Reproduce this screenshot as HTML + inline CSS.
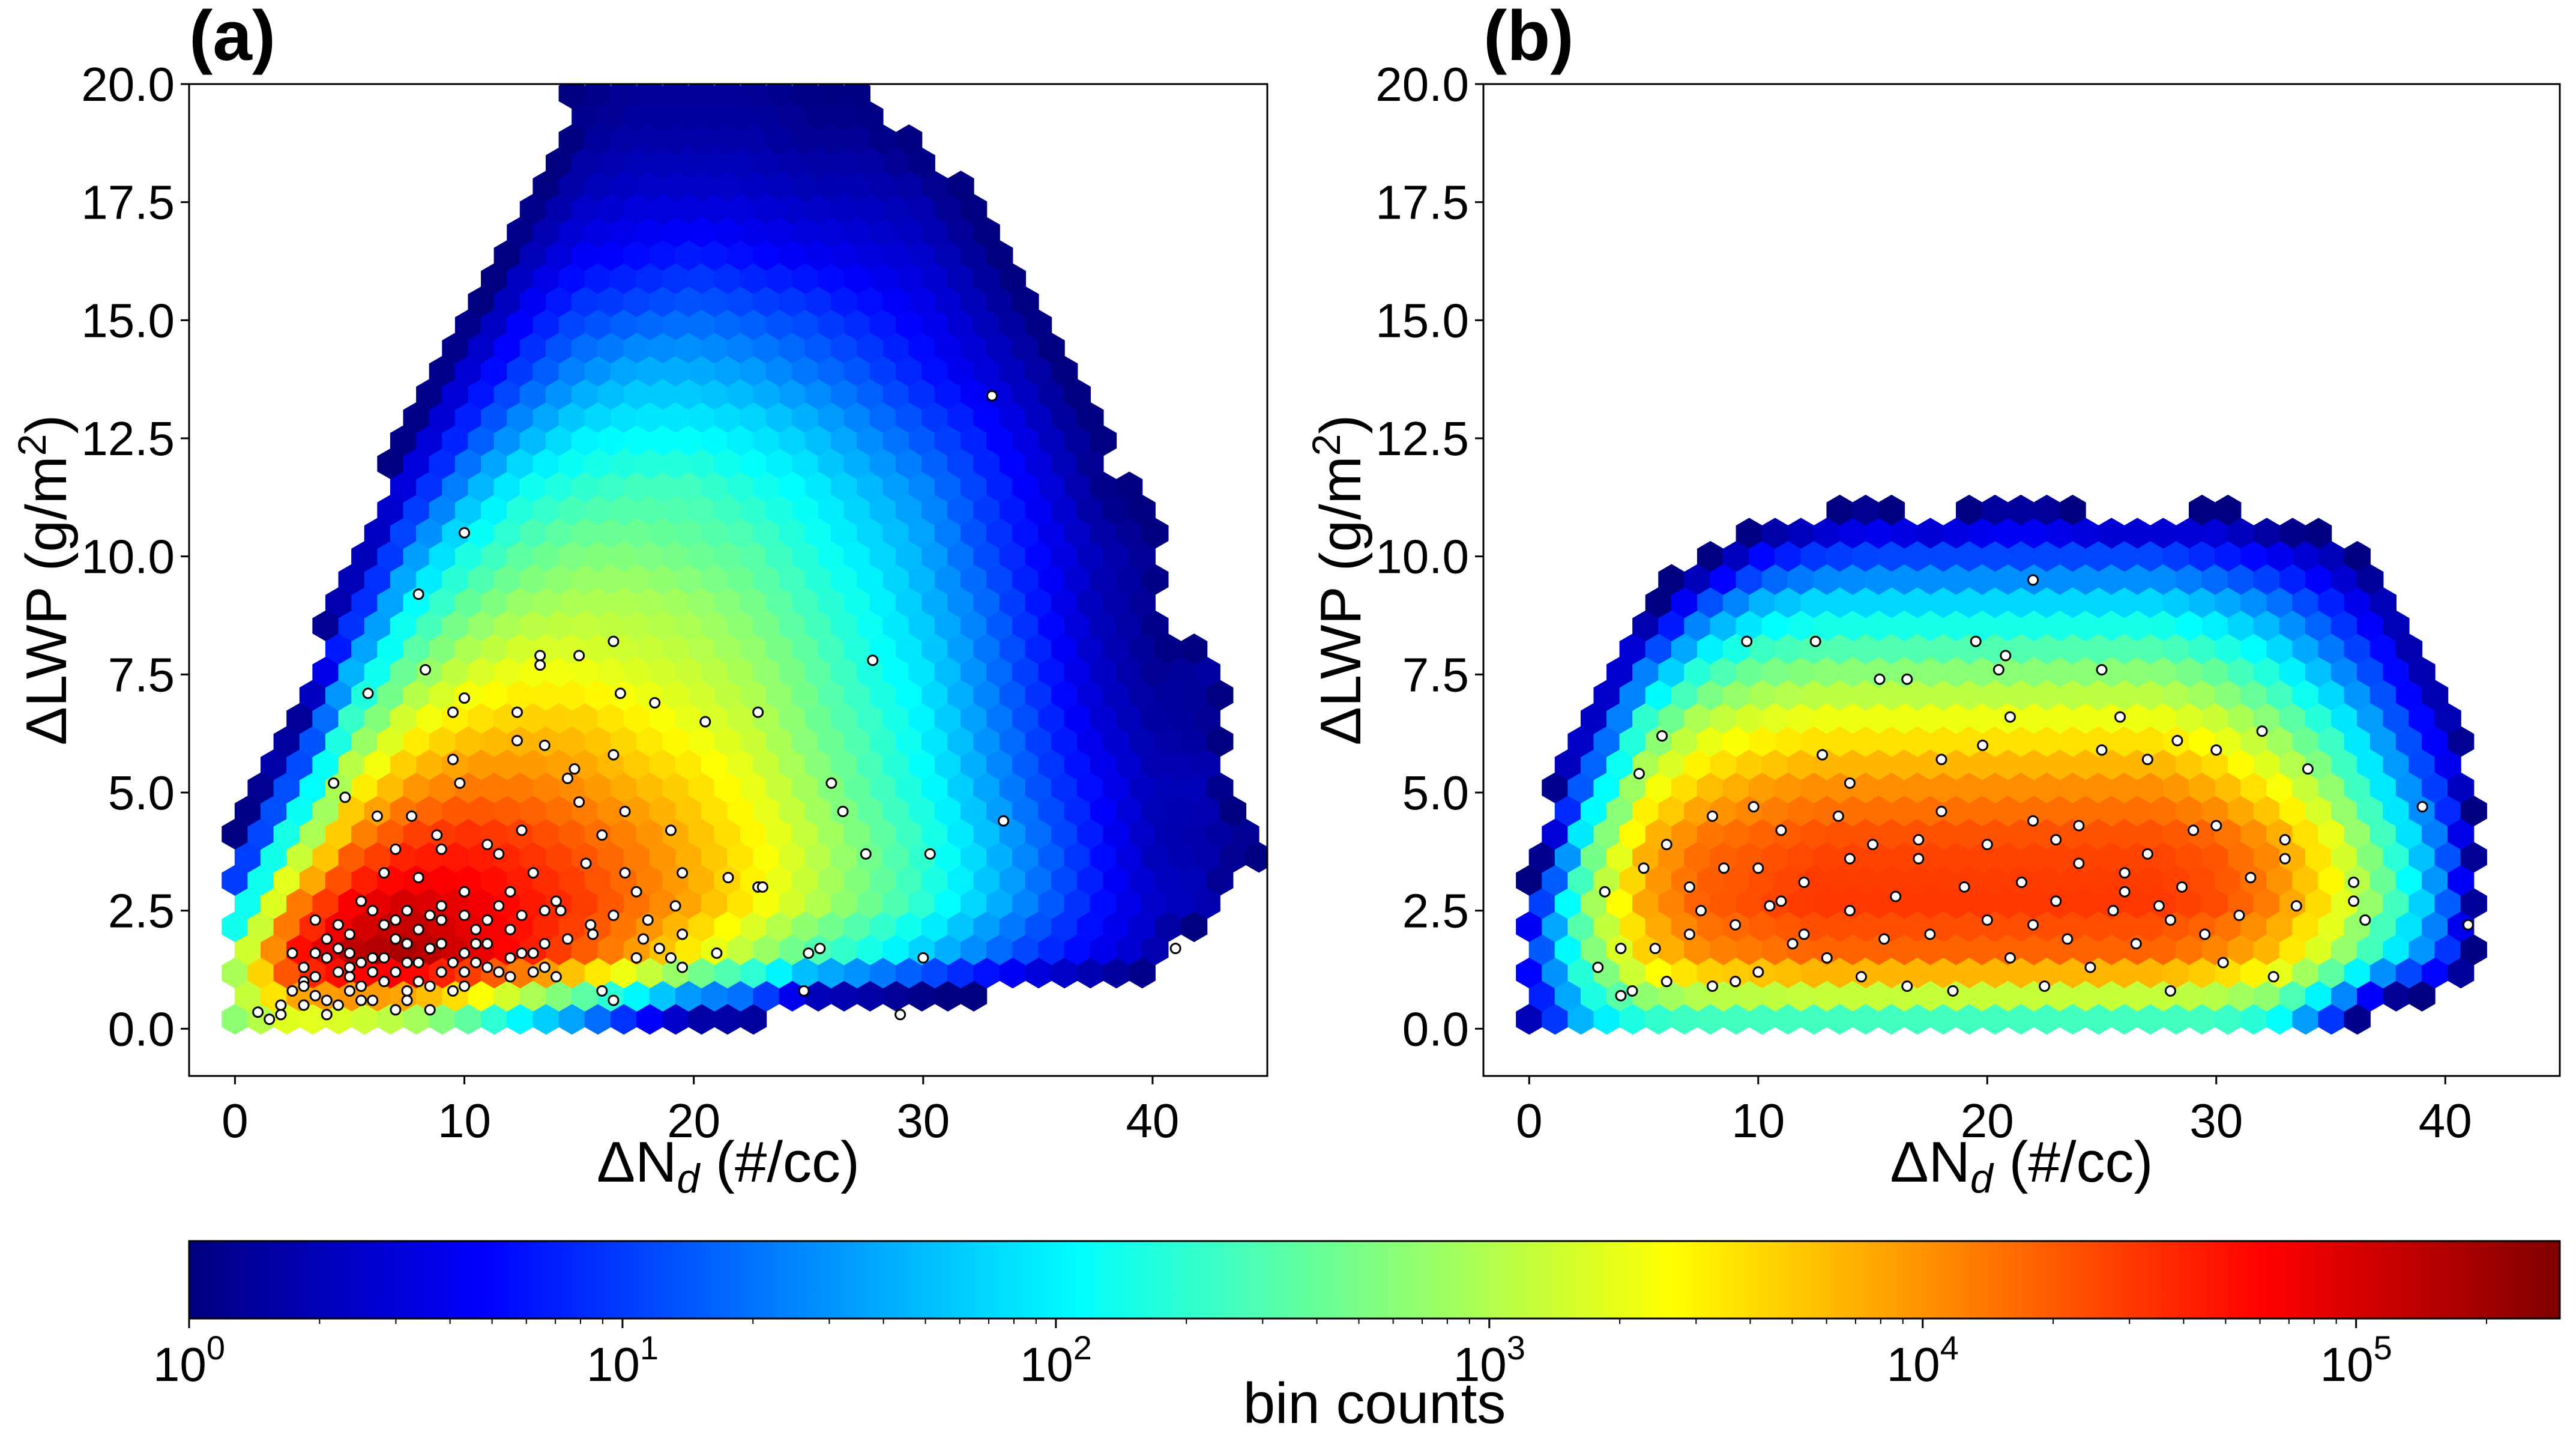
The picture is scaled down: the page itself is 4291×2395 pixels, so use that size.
<!DOCTYPE html>
<html><head><meta charset="utf-8"><style>
html,body{margin:0;padding:0;background:#fff;}
svg{display:block;font-family:"Liberation Sans","DejaVu Sans",sans-serif;}
</style></head><body>
<svg id="fig" width="4291" height="2395" viewBox="0 0 4291 2395" xmlns="http://www.w3.org/2000/svg">
<defs>
<clipPath id="clipA"><rect x="315" y="140" width="1796" height="1652"/></clipPath>
<clipPath id="clipB"><rect x="2471" y="140" width="1793" height="1652"/></clipPath>
<linearGradient id="jetGrad" x1="0" x2="1" y1="0" y2="0"></linearGradient>
</defs>
<g id="root"></g>
</svg>
<script>
// ---- data: log10(bin counts), grid columns at x = 0,2.5,...,45 ; rows at y = 0.2 + j*1.25 ; -1 = empty
const gridX = [0,2.5,5,7.5,10,12.5,15,17.5,20,22.5,25,27.5,30,32.5,35,37.5,40,42.5,45];
const gridY = [0.2,1.45,2.7,3.95,5.2,6.45,7.7,8.95,10.2,11.45,12.7,13.95,15.2,16.45,17.7,18.95,20.2];
const gridA = [
[2.8,3.3,3.2,3.0,2.6,2.0,1.5,0.8,0.2,0.2,-1,-1,-1,-1,-1,-1,-1,-1,-1],
[3.0,4.8,5.2,5.3,5.0,4.7,4.3,3.9,3.4,2.9,2.4,2.1,1.7,1.3,0.9,0.6,0.3,-1,-1],
[1.5,4.0,4.8,5.0,4.9,4.7,4.5,4.2,3.9,3.5,3.1,2.7,2.3,1.8,1.3,0.8,0.4,0.3,-1],
[0.1,2.6,4.1,4.5,4.6,4.5,4.3,4.1,3.8,3.5,3.1,2.7,2.3,1.8,1.3,0.8,0.3,0.2,0.2],
[-1,1.2,3.3,3.9,4.1,4.1,4.0,3.8,3.6,3.3,2.9,2.5,2.1,1.6,1.1,0.7,0.3,0.3,-1],
[-1,-0.1,2.4,3.3,3.6,3.7,3.7,3.5,3.3,3.1,2.7,2.4,2.0,1.5,1.0,0.5,0.2,0.1,-1],
[-1,-1,1.5,2.6,3.1,3.3,3.3,3.2,3.1,2.9,2.6,2.2,1.9,1.4,0.9,0.4,0.1,0.2,-1],
[-1,-1,0.6,2.0,2.6,2.9,3.0,3.0,2.9,2.7,2.4,2.1,1.7,1.3,0.8,0.3,0.1,-1,-1],
[-1,-1,-0.2,1.3,2.1,2.5,2.7,2.7,2.6,2.5,2.2,1.9,1.6,1.1,0.7,0.3,0.1,-1,-1],
[-1,-1,-1,0.6,1.5,2.1,2.3,2.4,2.4,2.2,2.0,1.7,1.4,1.0,0.6,0.1,-0.2,-1,-1],
[-1,-1,-1,0.0,0.9,1.5,1.9,2.0,2.0,1.9,1.7,1.4,1.1,0.8,0.4,0.0,-1,-1,-1],
[-1,-1,-1,-0.5,0.4,1.0,1.4,1.6,1.6,1.5,1.3,1.1,0.8,0.5,0.2,-0.3,-1,-1,-1],
[-1,-1,-1,-1,-0.1,0.6,1.0,1.1,1.2,1.1,1.0,0.8,0.6,0.3,0.0,-1,-1,-1,-1],
[-1,-1,-1,-1,-1,0.2,0.6,0.7,0.8,0.7,0.6,0.5,0.4,0.1,-0.3,-1,-1,-1,-1],
[-1,-1,-1,-1,-1,-0.1,0.3,0.4,0.4,0.4,0.3,0.3,0.2,-0.1,-1,-1,-1,-1,-1],
[-1,-1,-1,-1,-1,-1,0.1,0.2,0.2,0.2,0.1,0.1,-0.1,-1,-1,-1,-1,-1,-1],
[-1,-1,-1,-1,-1,-1,0.0,0.1,0.1,0.1,0.0,0.0,-1,-1,-1,-1,-1,-1,-1]
];
const gridB = [
[0.3,1.8,2.3,2.4,2.4,2.4,2.4,2.4,2.4,2.4,2.4,2.4,2.4,2.2,1.0,-1,-1,-1,-1],
[0.8,2.6,3.6,4.0,4.1,4.2,4.2,4.2,4.2,4.2,4.2,4.2,4.0,3.7,3.0,2.0,1.0,-1,-1],
[0.5,2.8,3.9,4.3,4.4,4.5,4.5,4.5,4.5,4.5,4.5,4.5,4.4,4.1,3.5,2.6,1.3,-1,-1],
[-1,2.4,3.8,4.2,4.3,4.4,4.4,4.4,4.4,4.4,4.4,4.4,4.3,4.0,3.4,2.4,1.2,-1,-1],
[-1,1.3,3.2,3.7,3.9,4.0,4.0,4.0,4.0,4.0,4.0,4.0,3.8,3.4,2.8,1.8,0.8,-1,-1],
[-1,0.2,2.4,3.1,3.3,3.4,3.4,3.4,3.4,3.4,3.4,3.4,3.2,2.8,2.2,1.3,0.4,-1,-1],
[-1,-1,1.2,2.2,2.6,2.7,2.7,2.7,2.7,2.7,2.7,2.7,2.5,2.1,1.5,0.8,-0.2,-1,-1],
[-1,-1,-0.3,1.1,1.7,1.9,1.9,1.9,1.9,1.9,1.9,1.9,1.7,1.4,0.9,0.3,-1,-1,-1],
[-1,-1,-1,-0.5,0.5,0.8,0.9,0.9,0.9,0.9,0.9,0.9,0.7,0.5,0.2,-0.5,-1,-1,-1],
[-1,-1,-1,-1,-1,-1,-0.3,-1,-0.3,-0.3,-1,-1,-0.3,-1,-1,-1,-1,-1,-1],
[-1,-1,-1,-1,-1,-1,-1,-1,-1,-1,-1,-1,-1,-1,-1,-1,-1,-1,-1],
[-1,-1,-1,-1,-1,-1,-1,-1,-1,-1,-1,-1,-1,-1,-1,-1,-1,-1,-1],
[-1,-1,-1,-1,-1,-1,-1,-1,-1,-1,-1,-1,-1,-1,-1,-1,-1,-1,-1],
[-1,-1,-1,-1,-1,-1,-1,-1,-1,-1,-1,-1,-1,-1,-1,-1,-1,-1,-1],
[-1,-1,-1,-1,-1,-1,-1,-1,-1,-1,-1,-1,-1,-1,-1,-1,-1,-1,-1],
[-1,-1,-1,-1,-1,-1,-1,-1,-1,-1,-1,-1,-1,-1,-1,-1,-1,-1,-1],
[-1,-1,-1,-1,-1,-1,-1,-1,-1,-1,-1,-1,-1,-1,-1,-1,-1,-1,-1]
];
const ptsAx = [1,1.5,2,2.5,3,3,3.5,3.5,4,4,4.3,4.5,4.5,4.8,5,5,5.5,5.5,5.8,6,6,6.2,6.5,6.5,7,7,7,7.5,7.5,7.7,8,8,8,8.3,8.5,8.5,8.8,9,9,9.5,9.5,9.5,9.8,10,10,10,10,10.5,11,11,11.5,11.5,12,12,12.3,12.3,12.5,13,13,13.3,13.3,13.5,13.5,14,14.2,14.5,14.8,15,15,15.3,15.6,16,16,16.5,16.5,16.5,16.8,17,17,17.5,17.8,18,18.3,19,19,19.2,19.5,19.5,20.5,21,21.5,22.8,22.8,23,24.8,25,25.5,26,26.5,27.5,27.8,29,30,30.3,33,33.5,41,3,3.5,4,5,5.5,6.5,7.5,8.5,9,10,10.5,11.5,12.5,13.5,2,2.5,3,3.5,4,4.5,4.5,5,5,5.5,6,6,6.5,7,7,7.5,7.5,8,8,8.5,9,9,9.5,10,10,10.5,11,11,12,12,12.5,13,13.5,14,14.5,15.5,16.5,17.5,18.5,19.5];
const ptsAy = [0.35,0.2,0.3,1.6,1.0,0.5,0.7,2.3,1.5,0.3,5.2,1.2,2.2,4.9,1.6,0.8,2.7,1.4,7.1,1.5,0.6,4.5,2.2,3.3,1.9,0.4,3.8,2.5,1.4,4.5,9.2,1.0,3.2,7.6,2.4,1.7,4.1,2.3,3.8,6.7,5.7,1.4,5.2,10.5,7.0,2.4,1.6,2.1,3.9,1.3,2.6,3.7,1.5,2.9,6.1,6.7,4.2,1.2,3.3,7.9,7.7,6.0,2.5,1.1,2.5,5.3,5.5,7.9,4.8,3.5,2.0,0.8,4.1,8.2,5.8,0.6,7.1,3.3,4.6,2.9,1.9,2.3,6.9,4.2,1.5,2.6,1.3,3.3,6.5,1.6,3.2,6.7,3.0,3.0,0.8,1.6,1.7,5.2,4.6,3.7,7.8,0.3,1.5,3.7,13.4,4.4,1.7,0.9,1.1,0.6,1.1,0.9,1.0,0.8,0.4,1.2,0.9,1.8,1.2,1.6,1.8,0.5,0.8,1.3,1.6,1.9,0.5,1.7,1.3,2.0,0.6,1.2,2.5,1.5,1.2,2.3,1.8,0.6,1.4,2.1,0.9,1.8,2.6,0.8,1.2,2.9,1.4,2.3,1.8,2.1,1.1,2.4,1.6,1.3,2.7,1.9,2.2,2.4,1.5,1.7,2.0];
const ptsBx = [3,3.3,4,4,4.5,4.8,5,5.5,5.8,6,6,7,7,7.5,8,8,8.5,9,9,9.5,9.8,10,10,10.5,11,11.5,12,12,12.5,12.8,13,13.5,14,14,14.5,15,15.3,15.5,16,16.5,16.5,17,17.5,18,18,18.5,19,19.5,19.8,20,20,20.5,20.8,21,21,21.5,22,22,22.5,23,23,23.5,24,24.5,25,25,25.5,25.8,26,26.5,27,27,27.5,28,28.3,28.5,29,29.5,30,30.3,31,31.5,32,32.5,33,33,33.5,34,36,36,36.5,39,41,17,22,24,26,28,30,14,11];
const ptsBy = [1.3,2.9,0.7,1.7,0.8,5.4,3.4,1.7,6.2,3.9,1.0,2.0,3.0,2.5,0.9,4.5,3.4,2.2,1.0,8.2,4.7,3.4,1.2,2.6,4.2,1.8,3.1,2.0,8.2,5.8,1.5,4.5,2.5,5.2,1.1,3.9,7.4,1.9,2.8,7.4,0.9,3.6,2.0,4.6,5.7,0.8,3.0,8.2,6.0,2.3,3.9,7.6,7.9,6.6,1.5,3.1,9.5,4.4,0.9,2.7,4.0,1.9,3.5,1.3,7.6,5.9,2.5,6.6,3.3,1.8,5.7,3.7,2.6,0.8,6.1,3.0,4.2,2.0,5.9,1.4,2.4,3.2,6.3,1.1,4.0,3.6,2.6,5.5,3.1,2.7,2.3,4.7,2.2,4.0,2.2,4.3,2.9,2.3,4.3,3.6,2.7];
const xTicks = [0,10,20,30,40];
const yTicks = [0,2.5,5,7.5,10,12.5,15,17.5,20];
const cbDecades = [0,1,2,3,4,5];
const cbMaxLog = 5.47;

const NS = "http://www.w3.org/2000/svg";
const root = document.getElementById('root');
function mk(tag, attrs, parent){ const e=document.createElementNS(NS,tag); for(const k in attrs) e.setAttribute(k,attrs[k]); (parent||root).appendChild(e); return e; }
function jet(t){ t=Math.max(0,Math.min(1,t)); const c=v=>Math.round(255*Math.max(0,Math.min(1,v)));
  return `rgb(${c(1.5-Math.abs(4*t-3))},${c(1.5-Math.abs(4*t-2))},${c(1.5-Math.abs(4*t-1))})`; }
function sample(grid,x,y){
  const fi=(x-gridX[0])/(gridX[1]-gridX[0]), fj=(y-gridY[0])/(gridY[1]-gridY[0]);
  if(fi<0||fj<0||fi>gridX.length-1||fj>gridY.length-1) return -1;
  const i0=Math.min(Math.floor(fi),gridX.length-2), j0=Math.min(Math.floor(fj),gridY.length-2);
  const tx=fi-i0, ty=fj-j0;
  const a=grid[j0][i0], b=grid[j0][i0+1], c=grid[j0+1][i0], d=grid[j0+1][i0+1];
  return a*(1-tx)*(1-ty)+b*tx*(1-ty)+c*(1-tx)*ty+d*tx*ty;
}
const grad=document.getElementById('jetGrad');
for(let k=0;k<=40;k++){ const s=document.createElementNS(NS,'stop'); s.setAttribute('offset',(k/40)); s.setAttribute('stop-color',jet(k/40)); grad.appendChild(s); }

function panel(cfg){
  const {L,R,T,B,grid,px,py,clip,letter,name}=cfg;
  const xs=v=>L+(v+2)*(R-L)/47, ys=v=>B-(v+1)*(B-T)/21;
  const g=mk('g',{'clip-path':`url(#${clip})`});
  
  
  const dx=1.13, dy=0.49;
  const w=(xs(dx)-xs(0)), rowPx=ys(0)-ys(dy), r=rowPx*2/3;
  for(let k=0;k<44;k++){
    const yc=0.2+k*dy;
    for(let m=-1;m<42;m++){
      const xc=m*dx+(k%2)*dx/2;
      const v=sample(grid,xc,yc);
      if(v<-0.15) continue;
      const cx=xs(xc), cy=ys(yc);
      const p=mk('polygon',{points:`${cx},${cy-r} ${cx+w/2+0.6},${cy-r/2} ${cx+w/2+0.6},${cy+r/2} ${cx},${cy+r} ${cx-w/2-0.6},${cy+r/2} ${cx-w/2-0.6},${cy-r/2}`,fill:jet(Math.max(0,v)/cbMaxLog)},g);
      
      
    }
  }
  const sg=mk('g',{'clip-path':`url(#${clip})`});
  
  
  for(let i=0;i<px.length;i++){
    const c=mk('circle',{cx:xs(px[i]),cy:ys(py[i]),r:8,fill:'#fff',stroke:'#000','stroke-width':3},sg);
    
    
  }
  const fr=mk('rect',{x:L,y:T,width:R-L,height:B-T,fill:'none',stroke:'#000','stroke-width':3});
  
  
  xTicks.forEach(t=>{
    mk('line',{x1:xs(t),x2:xs(t),y1:B,y2:B+14,stroke:'#000','stroke-width':3});
    const tx=mk('text',{x:xs(t),y:B+102,'font-size':80,'text-anchor':'middle'}); tx.textContent=t;
    
    
  });
  yTicks.forEach(t=>{
    mk('line',{x1:L-14,x2:L,y1:ys(t),y2:ys(t),stroke:'#000','stroke-width':3});
    const tx=mk('text',{x:L-24,y:ys(t)+28,'font-size':80,'text-anchor':'end'}); tx.textContent=t.toFixed(1);
    
    
  });
  const xl=mk('text',{x:(L+R)/2,y:1968,'font-size':96,'text-anchor':'middle'});
  xl.innerHTML='ΔN<tspan font-style="italic" font-size="68" dy="18">d</tspan><tspan dy="-18"> (#/cc)</tspan>';
  
  
  const yx=L-205, yy=(T+B)/2;
  const yl=mk('text',{x:yx,y:yy,'font-size':96,'text-anchor':'middle',transform:`rotate(-90 ${yx} ${yy})`});
  yl.innerHTML='ΔLWP (g/m<tspan font-size="66" dy="-34">2</tspan><tspan dy="34">)</tspan>';
  
  
  const lt=mk('text',{x:L,y:100,'font-size':118,'font-weight':'bold'}); lt.textContent=letter;
  
  
}
panel({L:315,R:2111,T:140,B:1792,grid:gridA,px:ptsAx,py:ptsAy,clip:'clipA',letter:'(a)',name:'panel-a'});
panel({L:2471,R:4264,T:140,B:1792,grid:gridB,px:ptsBx,py:ptsBy,clip:'clipB',letter:'(b)',name:'panel-b'});

const cbL=315, cbR=4264, cbT=2067, cbB=2196;
const cbx=v=>cbL+v*(cbR-cbL)/cbMaxLog;
const cb=mk('rect',{x:cbL,y:cbT,width:cbR-cbL,height:cbB-cbT,fill:'url(#jetGrad)',stroke:'#000','stroke-width':3});


cbDecades.forEach(d=>{
  mk('line',{x1:cbx(d),x2:cbx(d),y1:cbB,y2:cbB+16,stroke:'#000','stroke-width':3});
  const t=mk('text',{x:cbx(d),y:2300,'font-size':80,'text-anchor':'middle'});
  t.innerHTML='10<tspan font-size="56" dy="-36">'+d+'</tspan>';
  
  
  for(let m=2;m<=9;m++){ const v=d+Math.log10(m); if(v<=cbMaxLog) mk('line',{x1:cbx(v),x2:cbx(v),y1:cbB,y2:cbB+9,stroke:'#000','stroke-width':2}); }
});
const cbt=mk('text',{x:(cbL+cbR)/2,y:2370,'font-size':96,'text-anchor':'middle'}); cbt.textContent='bin counts';


</script>
</body></html>
